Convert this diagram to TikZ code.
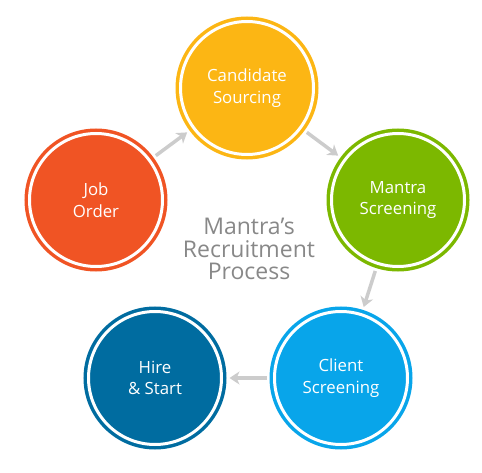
\documentclass[tikz,border=0pt]{standalone}
\usepackage{fontspec}
\setmainfont{Open Sans}
\usepackage{xcolor}
\usetikzlibrary{arrows.meta, math}
\definecolor{myorange}{RGB}{252,182,20}
\definecolor{mygreen}{RGB}{124,184,0}
\definecolor{myred}{RGB}{240,84,36}
\definecolor{mydarkblue}{RGB}{0,108,160}
\definecolor{mylightblue}{RGB}{8,165,234}
\definecolor{myarrow}{RGB}{204,204,204}
\definecolor{mytext}{RGB}{136,136,136}

\tikzset{
stage/.style={circle, minimum size=133pt, inner sep=0pt, outer sep=0pt,
  fill=#1, draw=#1, double=white, double distance=3pt, line width=3.5pt,
  text=white, font=\fontsize{16.8}{21.5}\selectfont, align=center},
flow/.style={draw=myarrow, line width=3.5pt, -{Stealth[length=10pt,width=13pt,inset=3pt]},
  shorten <=8pt, shorten >=8pt},
}

\begin{document}
\begin{tikzpicture}[x=1pt,y=-1pt]
\useasboundingbox (0,0) rectangle (482,473);

%%%%%%%%%% stages
\node[stage=myorange] (cand) at (247,88) {Candidate\\Sourcing};
\node[stage=mygreen] (mantra) at (398,200) {Mantra\\Screening};
\node[stage=mylightblue] (client) at (341,378) {Client\\Screening};
\node[stage=mydarkblue] (hire) at (155,378) {Hire\\\& Start};
\node[stage=myred] (job) at (96,200) {Job\\Order};

%%%%%%%%%% title in the middle
\node[text=mytext, align=center, font=\fontsize{23}{22.5}\selectfont] (title) at (249,249) {Mantra’s\\Recruitment\\Process};

%%%%%%%%%% arrows
\draw[flow] (job) -- (cand);
\draw[flow] (cand) -- (mantra);
\draw[flow] (mantra) -- (client);
\draw[flow] (client) -- (hire);
\end{tikzpicture}
\end{document}
